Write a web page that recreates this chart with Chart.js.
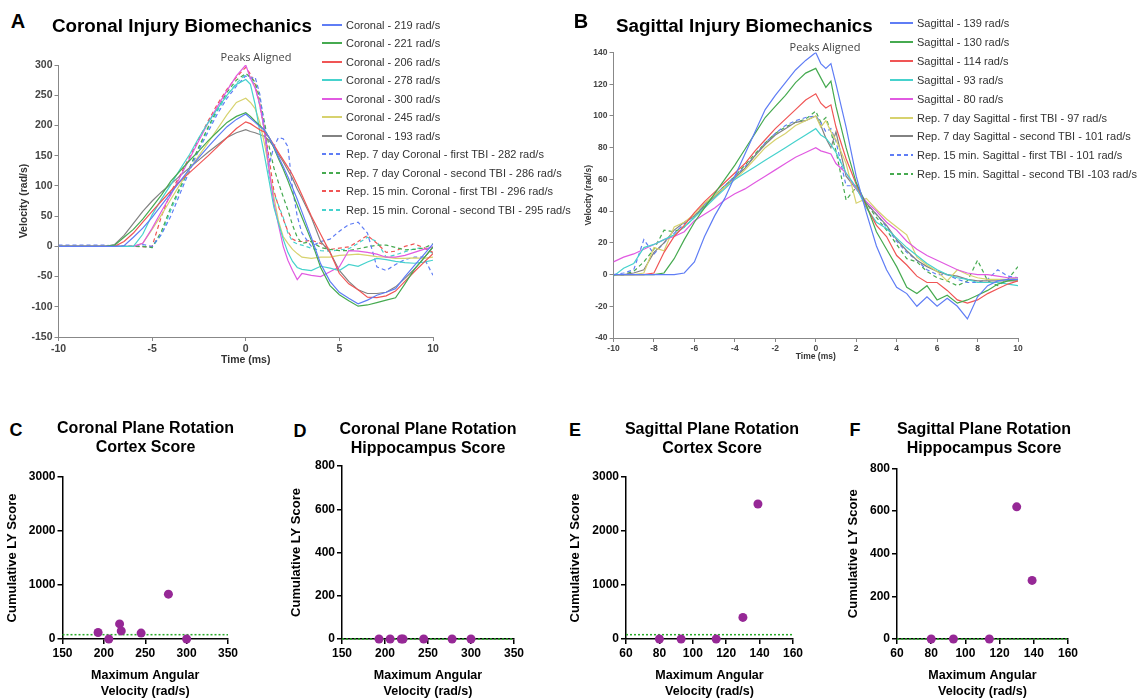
<!DOCTYPE html>
<html lang="en">
<head>
  <meta charset="UTF-8">
  <title>Injury Biomechanics</title>
  <script src="https://cdn.jsdelivr.net/npm/chart.js"></script>
  <style>
    body { margin: 0; background: #fff; font-family: "Liberation Sans", Arial, sans-serif; }
    #page { position: relative; width: 1142px; height: 700px; overflow: hidden; }
    #page canvas { position: absolute; }
    .lbl { position: absolute; white-space: pre; color: #000; }
    .big { font-weight: bold; font-size: 20px; }
    .letter { font-weight: bold; font-size: 18px; }
    .ttl { font-weight: bold; font-size: 18.8px; }
    .sub { font-weight: bold; font-size: 16px; line-height: 19px; text-align: center; }
    .peak { font-family: "Open Sans", sans-serif; font-size: 11px; color: #444; }
    .leg { font-size: 11px; color: #333; }
    .swatch { position: absolute; height: 2px; }
  </style>
</head>
<body>
<div id="page">
  <canvas id="chartA"></canvas>
  <canvas id="chartB"></canvas>
  <canvas id="chartC"></canvas>
  <canvas id="chartD"></canvas>
  <canvas id="chartE"></canvas>
  <canvas id="chartF"></canvas>
</div>

<script>
  // ---- panel A: coronal velocity traces (ms, rad/s) ----
  const timeA = [-10, -7.5, -7, -6.5, -6, -5.5, -5, -4.5, -4, -3.5, -3, -2.5, -2, -1.5, -1, -0.5, 0, 0.25, 0.5, 0.75, 1, 1.25, 1.5, 1.75, 2, 2.25, 2.5, 2.75, 3, 3.5, 4, 4.5, 5, 5.5, 6, 6.5, 7, 7.5, 8, 8.5, 9, 9.5, 10];
  const coronal219 = [0, 0, 0, 1, 15, 30, 48, 68, 88, 108, 128, 147, 165, 182, 198, 210, 219, 212, 205, 198, 192, 180, 165, 148, 132, 115, 97, 78, 57, 15, -29, -58, -76, -86, -95, -89, -81, -76, -70, -50, -32, -14, 4];
  const coronal221 = [0, 0, 2, 15, 28, 45, 65, 85, 108, 125, 142, 158, 175, 190, 205, 215, 221, 215, 207, 200, 192, 180, 163, 145, 128, 109, 88, 68, 48, 10, -35, -65, -80, -90, -99, -97, -93, -89, -85, -62, -38, -20, -1];
  const coronal206 = [0, 0, 0, 8, 22, 40, 58, 75, 92, 108, 122, 136, 150, 165, 180, 195, 206, 203, 198, 193, 189, 180, 168, 155, 143, 131, 118, 102, 85, 50, 20, -10, -45, -62, -72, -84, -85, -82, -74, -58, -42, -27, -12];
  const coronal278 = [0, 0, 0, 0, 0, 20, 52, 78, 102, 128, 152, 180, 205, 228, 250, 268, 276, 268, 235, 190, 150, 108, 65, 38, 12, -10, -25, -35, -38, -40, -33, -36, -40, -30, -33, -26, -20, -22, -25, -27, -28, -26, -23];
  const coronal300 = [0, 0, 0, 0, 0, 5, 30, 58, 85, 115, 145, 175, 205, 232, 258, 282, 300, 278, 262, 235, 190, 126, 72, 35, 0, -23, -40, -55, -45, -48, -50, -42, -34, -7, -8, -10, -13, -18, -18, -15, -10, -5, -1];
  const coronal245 = [0, 0, 0, 0, 0, 5, 28, 52, 78, 103, 128, 150, 172, 195, 218, 238, 245, 238, 228, 205, 170, 128, 82, 42, 16, 5, -5, -12, -18, -20, -18, -18, -15, -14, -13, -15, -17, -18, -20, -20, -19, -20, -18];
  const coronal193 = [0, 0, 3, 18, 38, 58, 75, 90, 103, 117, 130, 143, 156, 168, 180, 188, 193, 190, 188, 185, 182, 175, 165, 152, 140, 126, 112, 95, 80, 48, 8, -10, -40, -58, -72, -78, -78, -76, -67, -53, -38, -20, -1];
  const coronal7dFirst = [2, 2, 0, 1, 0, 3, 0, 20, 50, 88, 125, 160, 190, 220, 245, 265, 282, 278, 280, 252, 197, 135, 165, 180, 178, 165, 95, 50, 22, 0, 8, 12, 25, 36, 40, 22, -34, -40, -30, -22, -18, -18, -48];
  const coronal7dSecond = [0, 0, 0, 0, 0, 0, -2, 25, 65, 98, 130, 165, 198, 228, 255, 275, 286, 280, 272, 245, 205, 165, 130, 105, 82, 60, 35, 15, 5, 8, -2, -5, -7, -7, -4, -1, 2, 2, -2, -6, -5, -3, 4];
  const coronal15First = [0, 0, 0, 0, 0, -1, 0, 50, 90, 118, 148, 178, 208, 236, 260, 280, 296, 285, 268, 235, 195, 145, 92, 66, 45, 25, 12, 8, 8, 10, 5, -5, -3, -1, 8, 18, 5, -10, -8, 0, 4, -2, -10];
  const coronal15Second = [0, 0, 0, 0, 0, 0, -2, 20, 60, 95, 130, 162, 195, 225, 250, 270, 284, 280, 265, 232, 190, 118, 88, 68, 48, 22, 8, 4, 2, -3, -7, -8, -6, -4, 5, 15, 8, -18, -14, -9, -4, -2, -12];

  // ---- panel B: sagittal velocity traces ----
  const timeB = [-10, -9.5, -9, -8.5, -8, -7.5, -7, -6.5, -6, -5.5, -5, -4.5, -4, -3.5, -3, -2.5, -2, -1.5, -1, -0.5, 0, 0.25, 0.5, 0.75, 1, 1.5, 2, 2.5, 3, 3.5, 4, 4.5, 5, 5.5, 6, 6.5, 7, 7.5, 8, 8.5, 9, 9.5, 10];
  const sagittal139 = [0, 0, 0, 0, 0, 0, 0, 1, 8, 24, 37, 48, 62, 76, 90, 104, 113, 121, 129, 135, 140, 133, 130, 133, 120, 93, 62, 39, 18, 3, -8, -12, -20, -14, -20, -15, -20, -28, -14, -7, -4, -3, -3];
  const sagittal130 = [0, 0, 0, 0, 0, 1, 10, 22, 33, 42, 51, 60, 69, 79, 89, 99, 106, 113, 121, 127, 130, 124, 118, 122, 106, 80, 58, 44, 27, 16, 5, -8, -12, -7, -16, -13, -18, -16, -13, -10, -6, -4, -3];
  const sagittal114 = [0, 0, 0, 0, 1, 14, 24, 31, 39, 46, 52, 58, 64, 70, 78, 85, 92, 98, 104, 110, 114, 108, 105, 107, 93, 73, 57, 43, 31, 24, 12, 6, -1, -5, -5, -10, -16, -18, -16, -12, -9, -6, -4];
  const sagittal93 = [-1, 4, 7, 17, 19, 22, 25, 30, 36, 42, 48, 54, 60, 64, 68, 72, 76, 80, 84, 88, 92, 88, 86, 82, 77, 64, 55, 42, 33, 29, 23, 17, 12, 7, 3, 0, -2, -3, -5, -5, -5, -6, -7];
  const sagittal80 = [8, 11, 13, 16, 19, 22, 24, 27, 34, 38, 42, 47, 51, 54, 58, 62, 66, 70, 74, 77, 80, 78, 77, 76, 70, 64, 54, 46, 40, 33, 28, 21, 16, 12, 9, 6, 3, 1, 0, 0, -1, -2, -2];
  const sagittal7dFirst = [0, 0, 0, 1, 17, 15, 30, 33, 38, 45, 50, 55, 60, 66, 73, 80, 85, 89, 94, 97, 100, 93, 97, 90, 85, 70, 45, 48, 41, 35, 30, 25, 11, 6, 2, -4, 3, 0, -2, -3, -3, -3, -2];
  const sagittal7dSecond = [0, 0, 1, 3, 14, 20, 28, 33, 37, 43, 49, 55, 61, 67, 75, 82, 88, 92, 96, 97, 100, 94, 86, 80, 90, 62, 54, 45, 38, 31, 22, 15, 9, 5, 2, 0, -1, -3, -4, -4, -4, -4, -4];
  const sagittal15First = [0, 1, 3, 22, 13, 20, 26, 32, 37, 44, 50, 56, 62, 68, 75, 83, 89, 94, 97, 99, 100, 96, 90, 92, 84, 56, 56, 45, 38, 30, 21, 14, 9, 3, 0, 0, -3, -5, -5, -3, 3, -1, -2];
  const sagittal15Second = [0, 0, 2, 8, 16, 28, 27, 30, 36, 44, 50, 56, 62, 69, 76, 83, 89, 93, 96, 98, 103, 96, 99, 90, 78, 47, 55, 45, 36, 28, 19, 10, 8, 2, -2, -4, -7, -4, 9, -4, -7, -3, 5];

  // ---- panels C-F: cumulative LY score vs max angular velocity ----
  const coronalVelocity = [193, 206, 219, 221, 245, 278, 300];
  const coronalCortex = [120, 0, 280, 150, 110, 830, 0];
  const coronalHippocampus = [0, 0, 0, 0, 0, 0, 0];
  const sagittalVelocity = [80, 93, 114, 130, 139];
  const sagittalCortex = [0, 0, 0, 400, 2500];
  const sagittalHippocampus = [0, 0, 0, 620, 275];
  const cortexSham = 80;
  const hippocampusSham = 0;

  const coronalAxis = [150, 350, 50];
  const sagittalAxis = [60, 160, 20];
  const cortexAxis = [0, 3000, 1000];
  const hippocampusAxis = [0, 800, 200];

  const C_BLUE = 'rgb(95,125,245)';
  const C_GREEN = 'rgb(70,170,80)';
  const C_RED = 'rgb(240,85,85)';
  const C_CYAN = 'rgb(70,210,205)';
  const C_MAGENTA = 'rgb(225,90,225)';
  const C_YELLOW = 'rgb(215,210,110)';
  const C_GRAY = 'rgb(130,130,130)';
  const PURPLE = 'rgb(150,40,150)';
  const SHAM_GREEN = 'rgb(40,170,40)';

  const coronalSeries = [
    ['Coronal - 219 rad/s', coronal219, C_BLUE, false],
    ['Coronal - 221 rad/s', coronal221, C_GREEN, false],
    ['Coronal - 206 rad/s', coronal206, C_RED, false],
    ['Coronal - 278 rad/s', coronal278, C_CYAN, false],
    ['Coronal - 300 rad/s', coronal300, C_MAGENTA, false],
    ['Coronal - 245 rad/s', coronal245, C_YELLOW, false],
    ['Coronal - 193 rad/s', coronal193, C_GRAY, false],
    ['Rep. 7 day Coronal - first TBI - 282 rad/s', coronal7dFirst, C_BLUE, true],
    ['Rep. 7 day Coronal - second TBI - 286 rad/s', coronal7dSecond, C_GREEN, true],
    ['Rep. 15 min. Coronal - first TBI - 296 rad/s', coronal15First, C_RED, true],
    ['Rep. 15 min. Coronal - second TBI - 295 rad/s', coronal15Second, C_CYAN, true]
  ];
  const sagittalSeries = [
    ['Sagittal - 139 rad/s', sagittal139, C_BLUE, false],
    ['Sagittal - 130 rad/s', sagittal130, C_GREEN, false],
    ['Sagittal - 114 rad/s', sagittal114, C_RED, false],
    ['Sagittal - 93 rad/s', sagittal93, C_CYAN, false],
    ['Sagittal - 80 rad/s', sagittal80, C_MAGENTA, false],
    ['Rep. 7 day Sagittal - first TBI - 97 rad/s', sagittal7dFirst, C_YELLOW, false],
    ['Rep. 7 day Sagittal - second TBI - 101 rad/s', sagittal7dSecond, C_GRAY, false],
    ['Rep. 15 min. Sagittal - first TBI - 101 rad/s', sagittal15First, C_BLUE, true],
    ['Rep. 15 min. Sagittal - second TBI -103 rad/s', sagittal15Second, C_GREEN, true]
  ];

  const page = document.getElementById('page');

  function addText(txt, x, y, cls, centered) {
    const d = document.createElement('div');
    d.className = 'lbl ' + cls;
    d.textContent = txt;
    d.style.left = x + 'px';
    d.style.top = y + 'px';
    d.style.transform = centered ? 'translate(-50%,-50%)' : 'translateY(-50%)';
    page.appendChild(d);
  }

  function addLegend(series, lineX, textX, firstY, rowH) {
    series.forEach(function (s, i) {
      const y = firstY + i * rowH;
      const sw = document.createElement('div');
      sw.className = 'swatch';
      sw.style.left = lineX + 'px';
      sw.style.top = Math.round(y - 1) + 'px';
      sw.style.width = (textX - lineX - 4) + 'px';
      sw.style.background = s[3]
        ? 'repeating-linear-gradient(to right,' + s[2] + ' 0px,' + s[2] + ' 4px, transparent 4px, transparent 7px)'
        : s[2];
      page.appendChild(sw);
      addText(s[0], textX, y, 'leg', false);
    });
  }

  // box = canvas rect, area = wanted plot area rect
  function placeCanvas(id, box) {
    const c = document.getElementById(id);
    c.width = box.w;
    c.height = box.h;
    c.style.left = box.x + 'px';
    c.style.top = box.y + 'px';
    return c;
  }

  function makeAxis(o) {
    return {
      type: 'linear',
      min: o.range[0],
      max: o.range[1],
      ticks: {
        stepSize: o.range[2], font: o.tickFont, color: o.tickColor, padding: 2, maxRotation: 0, autoSkip: false,
        callback: function (v) { return String(v); }
      },
      grid: { drawOnChartArea: false, tickLength: o.tickLen, color: o.lineColor, lineWidth: o.lineWidth },
      border: { color: o.lineColor, width: o.lineWidth },
      title: { display: true, text: o.title, font: o.titleFont, color: o.titleColor, padding: o.titlePad },
      afterFit: o.isX ? function (s) { s.height = o.size; } : function (s) { s.width = o.size; }
    };
  }

  function baseOptions(box, area, xAxis, yAxis) {
    return {
      responsive: false,
      animation: false,
      layout: { padding: { top: area.top - box.y, right: box.x + box.w - area.right, left: 0, bottom: 0 } },
      plugins: { legend: { display: false }, tooltip: { enabled: false } },
      scales: { x: xAxis, y: yAxis }
    };
  }

  function traceChart(id, box, area, times, series, xr, yr, sizes) {
    const ctx = placeCanvas(id, box);
    const datasets = series.map(function (s) {
      return {
        label: s[0],
        data: times.map(function (t, i) { return { x: t, y: s[1][i] }; }),
        borderColor: s[2],
        borderWidth: 1.2,
        borderDash: s[3] ? [4, 3] : [],
        pointRadius: 0,
        tension: 0,
        fill: false
      };
    });
    const xAxis = makeAxis({
      range: xr, isX: true, size: box.y + box.h - area.bottom,
      tickFont: { size: sizes.tick, weight: 'bold' }, tickColor: '#444', tickLen: 4,
      lineColor: '#888', lineWidth: 1,
      title: 'Time (ms)', titleFont: { size: sizes.title, weight: 'bold' }, titleColor: '#333',
      titlePad: { top: 0, bottom: sizes.xPad }
    });
    const yAxis = makeAxis({
      range: yr, isX: false, size: area.left - box.x,
      tickFont: { size: sizes.tick, weight: 'bold' }, tickColor: '#444', tickLen: 4,
      lineColor: '#888', lineWidth: 1,
      title: 'Velocity (rad/s)', titleFont: { size: sizes.title, weight: 'bold' }, titleColor: '#333',
      titlePad: { top: sizes.yPad, bottom: 0 }
    });
    return new Chart(ctx, { type: 'line', data: { datasets: datasets }, options: baseOptions(box, area, xAxis, yAxis) });
  }

  function scoreChart(id, box, area, vel, score, sham, xr, yr) {
    const ctx = placeCanvas(id, box);
    const xAxis = makeAxis({
      range: xr, isX: true, size: box.y + box.h - area.bottom,
      tickFont: { size: 12, weight: 'bold' }, tickColor: '#000', tickLen: 5,
      lineColor: '#000', lineWidth: 1.5,
      title: ['Maximum Angular', 'Velocity (rad/s)'], titleFont: { size: 12.5, weight: 'bold', lineHeight: 1.3 }, titleColor: '#000',
      titlePad: { top: 0, bottom: 0 }
    });
    const yAxis = makeAxis({
      range: yr, isX: false, size: area.left - box.x,
      tickFont: { size: 12, weight: 'bold' }, tickColor: '#000', tickLen: 5,
      lineColor: '#000', lineWidth: 1.5,
      title: 'Cumulative LY Score', titleFont: { size: 13, weight: 'bold' }, titleColor: '#000',
      titlePad: { top: area.yTitle - box.x - 7.8, bottom: 0 }
    });
    return new Chart(ctx, {
      type: 'scatter',
      data: {
        datasets: [
          {
            data: vel.map(function (v, i) { return { x: v, y: score[i] }; }),
            backgroundColor: PURPLE,
            borderWidth: 0,
            pointRadius: 4.5,
            clip: false,
            order: 0
          },
          {
            type: 'line',
            data: [{ x: xr[0], y: sham }, { x: xr[1], y: sham }],
            borderColor: SHAM_GREEN,
            borderWidth: 1.5,
            borderDash: [2, 2],
            pointRadius: 0,
            clip: false,
            order: 1
          }
        ]
      },
      options: baseOptions(box, area, xAxis, yAxis)
    });
  }

  // top row
  traceChart('chartA', { x: 0, y: 40, w: 450, h: 330 }, { left: 58.5, right: 433, top: 65, bottom: 337 },
    timeA, coronalSeries, [-10, 10, 5], [-150, 300, 50], { tick: 10.5, title: 10.5, xPad: 4, yPad: 18 });
  traceChart('chartB', { x: 575, y: 30, w: 455, h: 340 }, { left: 613.5, right: 1018, top: 52.5, bottom: 338 },
    timeB, sagittalSeries, [-10, 10, 2], [-40, 140, 20], { tick: 8.5, title: 8.5, xPad: 8, yPad: 9 });

  // bottom row
  scoreChart('chartC', { x: 0, y: 450, w: 245, h: 250 }, { left: 62.5, right: 228, top: 477, bottom: 639, yTitle: 12.5 },
    coronalVelocity, coronalCortex, cortexSham, coronalAxis, cortexAxis);
  scoreChart('chartD', { x: 280, y: 445, w: 250, h: 255 }, { left: 342, right: 514, top: 466, bottom: 639, yTitle: 296.5 },
    coronalVelocity, coronalHippocampus, hippocampusSham, coronalAxis, hippocampusAxis);
  scoreChart('chartE', { x: 565, y: 450, w: 245, h: 250 }, { left: 626, right: 793, top: 477, bottom: 639, yTitle: 575.5 },
    sagittalVelocity, sagittalCortex, cortexSham, sagittalAxis, cortexAxis);
  scoreChart('chartF', { x: 840, y: 445, w: 245, h: 255 }, { left: 897, right: 1068, top: 468.5, bottom: 639, yTitle: 853 },
    sagittalVelocity, sagittalHippocampus, hippocampusSham, sagittalAxis, hippocampusAxis);

  // labels, titles, legends
  addText('A', 18, 21, 'big', true);
  addText('B', 581, 21, 'big', true);
  addText('Coronal Injury Biomechanics', 52, 26, 'ttl', false);
  addText('Sagittal Injury Biomechanics', 616, 26, 'ttl', false);
  addText('Peaks Aligned', 256, 56, 'peak', true);
  addText('Peaks Aligned', 825, 46, 'peak', true);
  addLegend(coronalSeries, 322, 346, 24.5, 18.5);
  addLegend(sagittalSeries, 890, 917, 23, 18.9);

  addText('C', 16, 430, 'letter', true);
  addText('D', 300, 431, 'letter', true);
  addText('E', 575, 430, 'letter', true);
  addText('F', 855, 430, 'letter', true);
  addText('Coronal Plane Rotation\nCortex Score', 145.5, 437, 'sub', true);
  addText('Coronal Plane Rotation\nHippocampus Score', 428, 438, 'sub', true);
  addText('Sagittal Plane Rotation\nCortex Score', 712, 438, 'sub', true);
  addText('Sagittal Plane Rotation\nHippocampus Score', 984, 438, 'sub', true);
</script>
</body>
</html>
